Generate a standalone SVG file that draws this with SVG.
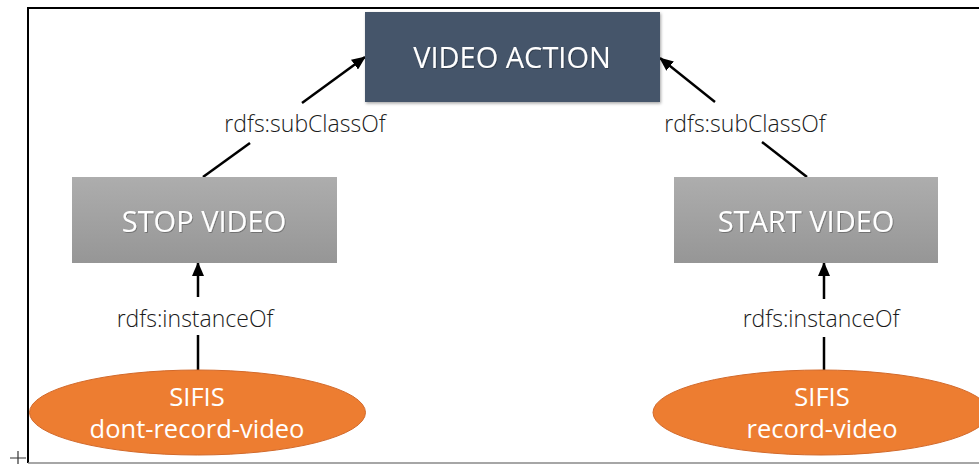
<svg xmlns="http://www.w3.org/2000/svg" width="979" height="464" viewBox="0 0 979 464">
<style>
.lbl{font-family:"Open Sans","Liberation Sans",sans-serif;font-size:23px;fill:#1a1a1a;text-anchor:middle;font-weight:300}
.box{font-family:"Open Sans","Liberation Sans",sans-serif;font-size:29px;fill:#fff;text-anchor:middle}
.ell{font-family:"Open Sans","Liberation Sans",sans-serif;font-size:25.5px;fill:#fff;text-anchor:middle}
.edge{stroke:#000;stroke-width:2.5;fill:none}
</style>
<defs>
<linearGradient id="g" x1="0" y1="0" x2="0" y2="1"><stop offset="0" stop-color="#adadad"/><stop offset="1" stop-color="#969696"/></linearGradient>
<marker id="ah" markerUnits="userSpaceOnUse" markerWidth="14" markerHeight="12" refX="13" refY="6" orient="auto"><path d="M0,0 L14,6 L0,12 z" fill="#000"/></marker>
<filter id="sh" x="-5%" y="-5%" width="110%" height="115%"><feDropShadow dx="1" dy="1.5" stdDeviation="1.5" flood-color="#000" flood-opacity="0.35"/></filter>
<filter id="ts"><feDropShadow dx="0.8" dy="0.8" stdDeviation="0.6" flood-color="#000" flood-opacity="0.35"/></filter>
</defs>
<g id="frame">
<line x1="28" y1="8" x2="979" y2="8" stroke="#000" stroke-width="2"/>
<line x1="28" y1="7" x2="28" y2="463" stroke="#000" stroke-width="2"/>
<line x1="28" y1="463" x2="979" y2="463" stroke="#888" stroke-width="1.5"/>
<path d="M10,458 H26 M18,451 V464" stroke="#333" stroke-width="1.2"/>
</g>
<g id="connectors">
<line class="edge" x1="203" y1="177" x2="250" y2="143"/>
<line class="edge" x1="302" y1="103" x2="365" y2="57" marker-end="url(#ah)"/>
<line class="edge" x1="807" y1="177" x2="762" y2="142"/>
<line class="edge" x1="715" y1="102" x2="660" y2="58" marker-end="url(#ah)"/>
<line class="edge" x1="198" y1="370" x2="198" y2="335"/>
<line class="edge" x1="198" y1="297" x2="198" y2="263" marker-end="url(#ah)"/>
<line class="edge" x1="824" y1="370" x2="824" y2="337"/>
<line class="edge" x1="824" y1="299" x2="824" y2="263" marker-end="url(#ah)"/>
<text class="lbl" x="305" y="132">rdfs:subClassOf</text>
<text class="lbl" x="745" y="132">rdfs:subClassOf</text>
<text class="lbl" x="195" y="327">rdfs:instanceOf</text>
<text class="lbl" x="821" y="327">rdfs:instanceOf</text>
</g>
<g id="video-action">
<rect x="365" y="12" width="295" height="90" fill="#44546a" filter="url(#sh)"/>
<text class="box" x="512" y="68" filter="url(#ts)">VIDEO ACTION</text>
</g>
<g id="stop-video">
<rect x="72" y="177" width="265" height="86" fill="url(#g)"/>
<text class="box" x="204" y="232" filter="url(#ts)">STOP VIDEO</text>
</g>
<g id="start-video">
<rect x="674" y="177" width="264" height="86" fill="url(#g)"/>
<text class="box" x="806" y="232" filter="url(#ts)">START VIDEO</text>
</g>
<g id="dont-record-video">
<ellipse cx="197.5" cy="412.5" rx="168" ry="42.5" fill="#ed7d31" stroke="#d2692a" stroke-width="1"/>
<text class="ell" x="197" y="406">SIFIS</text>
<text class="ell" x="197" y="438">dont-record-video</text>
</g>
<g id="record-video">
<ellipse cx="821" cy="412.5" rx="168" ry="42.5" fill="#ed7d31" stroke="#d2692a" stroke-width="1"/>
<text class="ell" x="822" y="406">SIFIS</text>
<text class="ell" x="822" y="438">record-video</text>
</g>
</svg>
